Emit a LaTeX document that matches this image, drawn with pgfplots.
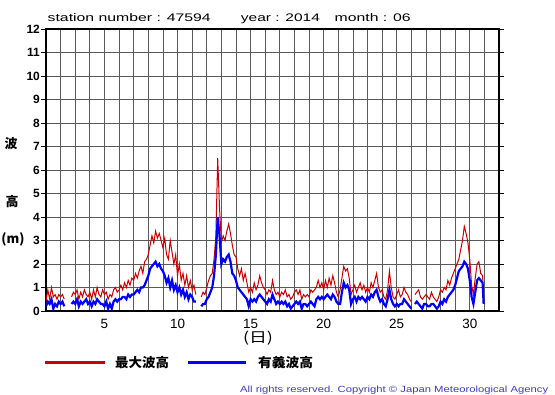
\documentclass[border=0pt]{standalone}
\usepackage{pgfplots}
\pgfplotsset{compat=1.18}
\usepackage{pgfplotstable}
\usepackage{fontspec}
\usepackage{graphicx}
\setmainfont{Liberation Sans}
\newfontfamily\jp{Noto Sans CJK JP}
\definecolor{maxred}{RGB}{204,0,0}
\definecolor{sigblue}{RGB}{0,0,255}
\definecolor{copyblue}{RGB}{60,60,200}

\pgfplotstableread{
d r b
1.000 0.4 0.2
1.125 0.9 0.4
1.250 0.5 0.3
1.375 1.0 0.5
1.500 0.6 0.1
1.625 0.7 0.3
1.750 0.5 0.2
1.875 0.7 0.4
2.000 0.6 0.3
2.125 0.7 0.4
2.250 0.5 0.2
2.375 nan nan
2.500 nan nan
2.625 nan nan
2.750 0.6 0.3
2.875 0.8 0.4
3.000 0.7 0.3
3.125 0.9 0.5
3.250 0.5 0.2
3.375 0.8 0.4
3.500 0.6 0.3
3.625 0.9 0.4
3.750 0.7 0.5
3.875 0.6 0.3
4.000 0.8 0.4
4.125 0.5 0.2
4.250 0.9 0.4
4.375 0.6 0.3
4.500 1.0 0.5
4.625 0.7 0.4
4.750 0.6 0.3
4.875 0.9 0.3
5.000 0.7 0.2
5.125 0.8 0.4
5.250 0.5 0.1
5.375 0.7 0.3
5.500 0.6 0.1
5.625 0.9 0.4
5.750 1.0 0.5
5.875 0.8 0.4
6.000 0.9 0.5
6.125 1.1 0.5
6.250 0.9 0.6
6.375 1.2 0.6
6.500 1.0 0.5
6.625 1.3 0.7
6.750 1.1 0.6
6.875 1.4 0.7
7.000 1.3 0.7
7.125 1.6 0.8
7.250 1.4 0.9
7.375 1.7 0.8
7.500 1.9 1.0
7.625 1.6 1.0
7.750 2.1 1.1
7.875 2.2 1.3
8.000 2.4 1.5
8.125 2.8 1.8
8.250 3.2 1.9
8.375 2.9 2.0
8.500 3.4 2.1
8.625 3.1 1.9
8.750 3.3 2.0
8.875 3.0 1.8
9.000 2.7 1.7
9.125 3.1 1.5
9.250 2.4 1.2
9.375 2.2 1.4
9.500 3.0 1.0
9.625 2.5 1.3
9.750 2.0 0.9
9.875 2.4 1.1
10.000 1.5 0.8
10.125 2.0 1.0
10.250 1.3 0.7
10.375 1.6 0.9
10.500 1.1 0.6
10.625 1.5 0.8
10.750 1.0 0.5
10.875 1.3 0.7
11.000 0.9 0.6
11.125 1.1 0.4
11.250 0.7 0.4
11.375 nan nan
11.500 nan nan
11.625 0.6 0.2
11.750 0.8 0.3
11.875 0.7 0.3
12.000 1.0 0.5
12.125 1.3 0.6
12.250 1.5 0.8
12.375 1.6 1.0
12.500 2.2 1.5
12.625 3.2 2.4
12.750 6.5 4.0
12.875 4.4 3.2
13.000 2.9 2.0
13.125 3.2 2.2
13.250 3.0 2.1
13.375 3.4 2.3
13.500 3.7 2.4
13.625 3.3 2.1
13.750 2.8 1.6
13.875 2.4 1.5
14.000 2.3 1.3
14.125 1.8 1.0
14.250 1.5 0.9
14.375 1.8 0.8
14.500 1.3 0.7
14.625 1.6 0.6
14.750 1.2 0.5
14.875 0.8 0.2
15.000 1.0 0.5
15.125 0.8 0.4
15.250 1.2 0.5
15.375 0.9 0.4
15.500 1.1 0.6
15.625 1.5 0.7
15.750 1.2 0.6
15.875 1.0 0.5
16.000 0.9 0.4
16.125 0.7 0.3
16.250 0.9 0.5
16.375 0.8 0.4
16.500 1.3 0.7
16.625 0.9 0.5
16.750 0.7 0.3
16.875 0.8 0.4
17.000 0.6 0.3
17.125 0.8 0.4
17.250 0.7 0.3
17.375 0.9 0.4
17.500 0.6 0.2
17.625 0.7 0.3
17.750 0.5 0.1
17.875 0.6 0.2
18.000 0.8 0.3
18.125 0.9 0.4
18.250 0.7 0.3
18.375 0.9 0.4
18.500 0.5 0.1
18.625 0.7 0.3
18.750 0.6 0.3
18.875 0.7 0.2
19.000 0.6 0.3
19.125 0.9 0.4
19.250 0.8 0.3
19.375 0.9 0.2
19.500 1.0 0.5
19.625 1.3 0.6
19.750 1.0 0.5
19.875 1.2 0.6
20.000 0.9 0.5
20.125 1.3 0.6
20.250 1.0 0.7
20.375 1.4 0.6
20.500 1.1 0.5
20.625 1.5 0.7
20.750 1.2 0.6
20.875 0.8 0.4
21.000 0.6 0.3
21.125 0.9 0.3
21.250 1.4 0.8
21.375 1.9 1.2
21.500 1.7 1.0
21.625 1.8 1.1
21.750 1.4 0.9
21.875 0.7 0.3
22.000 0.9 0.5
22.125 1.1 0.6
22.250 0.8 0.4
22.375 1.0 0.6
22.500 1.2 0.5
22.625 0.9 0.6
22.750 1.1 0.5
22.875 0.8 0.4
23.000 1.0 0.6
23.125 0.8 0.5
23.250 1.2 0.7
23.375 1.0 0.6
23.500 1.3 0.8
23.625 1.6 0.9
23.750 1.0 0.6
23.875 0.8 0.4
24.000 0.9 0.5
24.125 0.6 0.3
24.250 0.5 0.2
24.375 0.9 0.5
24.500 1.7 0.9
24.625 1.0 0.5
24.750 0.6 0.3
24.875 0.5 0.2
25.000 0.7 0.3
25.125 0.9 0.2
25.250 0.6 0.3
25.375 0.7 0.3
25.500 1.0 0.5
25.625 0.8 0.4
25.750 0.7 0.3
25.875 0.5 0.2
26.000 0.4 0.1
26.125 nan nan
26.250 0.7 0.3
26.375 0.8 0.4
26.500 0.9 0.3
26.625 0.6 0.2
26.750 0.5 0.1
26.875 0.6 0.3
27.000 0.7 0.3
27.125 0.6 0.2
27.250 0.5 0.2
27.375 0.8 0.3
27.500 0.6 0.3
27.625 0.5 0.2
27.750 0.4 0.1
27.875 0.6 0.2
28.000 0.9 0.4
28.125 0.8 0.3
28.250 1.0 0.5
28.375 0.9 0.4
28.500 1.3 0.6
28.625 1.1 0.7
28.750 1.4 0.8
28.875 1.6 0.9
29.000 1.8 1.1
29.125 2.0 1.4
29.250 2.2 1.7
29.375 2.6 1.8
29.500 3.0 1.9
29.625 3.6 2.1
29.750 3.3 2.0
29.875 2.9 1.8
30.000 2.2 1.3
30.125 1.1 0.6
30.250 0.7 0.3
30.375 1.4 0.8
30.500 2.0 1.3
30.625 2.1 1.4
30.750 1.6 1.3
30.875 1.5 1.2
30.950 0.6 0.3
}\wave

\begin{document}
\begin{tikzpicture}
\useasboundingbox (0bp,0bp) rectangle (555bp,395bp);
\begin{axis}[
  at={(46bp,84bp)}, anchor=south west,
  width=453bp, height=282bp, scale only axis,
  xmin=1, xmax=32, ymin=0, ymax=12,
  xtick={5,10,...,30}, minor xtick={1,...,32},
  ytick={0,...,12},
  grid=both,
  major grid style={black!65, line width=0.7bp},
  minor grid style={black!65, line width=0.7bp},
  axis line style={line width=1.4bp},
  tick align=outside,
  xtick style={draw=none},
  minor tick length=0pt,
  ytick style={line width=0.8bp, black},
  major tick length=5bp,
  /pgf/number format/assume math mode=true,
  xticklabel style={font=\fontsize{13.5}{14}\selectfont},
  yticklabel style={font=\bfseries\fontsize{12}{13}\selectfont, inner xsep=1bp},
  unbounded coords=jump,
]
\addplot[maxred, line width=1bp] table[x=d, y=r] {\wave};
\addplot[sigblue, line width=2.2bp] table[x=d, y=b] {\wave};
\end{axis}
% title
\node[anchor=base west, inner sep=0] at (47.5bp,373bp) {\resizebox{163bp}{\height}{\fontsize{11}{12}\selectfont station number : 47594}};
\node[anchor=base west, inner sep=0] at (240.7bp,373bp) {\resizebox{79bp}{\height}{\fontsize{11}{12}\selectfont year : 2014}};
\node[anchor=base west, inner sep=0] at (334.5bp,373bp) {\resizebox{76bp}{\height}{\fontsize{11}{12}\selectfont month : 06}};
% y label
\node[inner sep=0, font=\jp\bfseries\fontsize{13}{13}\selectfont] at (11bp,251bp) {波};
\node[inner sep=0, font=\jp\bfseries\fontsize{13}{13}\selectfont] at (12bp,193bp) {高};
\node[inner sep=0, font=\jp\bfseries\fontsize{13}{13}\selectfont] at (13bp,156bp) {(m)};
% x label
\node[inner sep=0, font=\jp\fontsize{14}{14}\selectfont] at (258bp,57bp) {\resizebox{30bp}{\height}{(日)}};
% legend
\draw[maxred, line width=3bp] (45bp,32bp) -- (105bp,32bp);
\node[anchor=west, inner sep=0, font=\jp\bfseries\fontsize{13}{13}\selectfont] at (115bp,32bp) {\resizebox{54bp}{\height}{最大波高}};
\draw[sigblue, line width=3bp] (188bp,32bp) -- (246bp,32bp);
\node[anchor=west, inner sep=0, font=\jp\bfseries\fontsize{13}{13}\selectfont] at (258bp,32bp) {\resizebox{55bp}{\height}{有義波高}};
% copyright
\node[anchor=base west, inner sep=0, text=copyblue] at (240bp,2.5bp) {\resizebox{308bp}{\height}{\fontsize{9}{10}\selectfont All rights reserved. Copyright \textcopyright{} Japan Meteorological Agency}};
\end{tikzpicture}
\end{document}
